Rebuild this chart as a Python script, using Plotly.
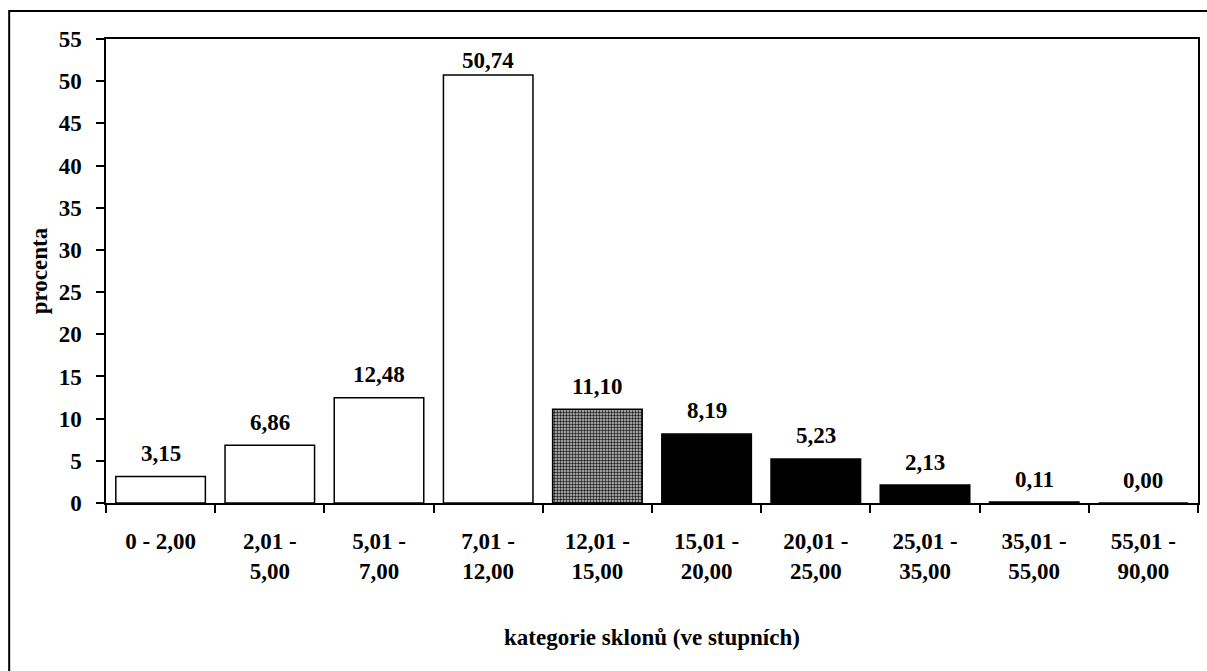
import plotly.graph_objects as go

categories = ["0 - 2,00", "2,01 -<br>5,00", "5,01 -<br>7,00", "7,01 -<br>12,00",
              "12,01 -<br>15,00", "15,01 -<br>20,00", "20,01 -<br>25,00",
              "25,01 -<br>35,00", "35,01 -<br>55,00", "55,01 -<br>90,00"]
values = [3.15, 6.86, 12.48, 50.74, 11.10, 8.19, 5.23, 2.13, 0.11, 0.00]
fill_kind = ["white", "white", "white", "white", "gray", "black", "black", "black", "black", "black"]
y_ticks = list(range(0, 56, 5))

FONT = dict(family="Liberation Serif", size=23, color="black", weight="bold")

W, H = 1207, 671
L, R, T, B = 106, 7, 39, 168
pw, ph = W - L - R, H - T - B
base = H - B  # pixel row of the plot bottom

fig = go.Figure()
for kind, col in [("white", "white"), ("gray", "#b4b4b4"), ("black", "black")]:
    xs = [c for c, k in zip(categories, fill_kind) if k == kind]
    ys = [v for v, k in zip(values, fill_kind) if k == kind]
    marker = dict(color=col, line=dict(color="black", width=1.5))
    if kind == "gray":
        marker["pattern"] = dict(shape=".", size=3, solidity=0.5,
                                 fgcolor="#1a1a1a", bgcolor="#c8c8c8", fillmode="replace")
    fig.add_trace(go.Bar(x=xs, y=ys, marker=marker, showlegend=False, hoverinfo="skip"))

for c, v in zip(categories, values):
    fig.add_annotation(x=c, y=v, text=f"{v:.2f}".replace(".", ","),
                       showarrow=False, yanchor="middle",
                       yshift=23 if v < 50 else 14, font=FONT)

# outer frame (left and top visible)
fig.add_shape(type="rect", xref="paper", yref="paper",
              x0=(9 - L) / pw, x1=(1215 - L) / pw,
              y0=(base - 700) / ph, y1=(base - 11) / ph,
              line=dict(color="black", width=2), layer="above")

fig.update_layout(
    width=W, height=H,
    margin=dict(l=L, r=R, t=T, b=B),
    paper_bgcolor="white", plot_bgcolor="white",
    bargap=0.18, barmode="overlay",
    font=FONT,
    xaxis=dict(type="category", categoryorder="array", categoryarray=categories,
               showline=True, linecolor="black", linewidth=1.5, mirror=True,
               ticks="outside", tickson="boundaries", ticklen=8, tickcolor="black",
               tickwidth=1.5, ticklabelstandoff=17, tickfont=FONT,
               title=dict(text="kategorie sklonů (ve stupních)", font=FONT, standoff=46),
               showgrid=False),
    yaxis=dict(range=[0, 55], tickvals=y_ticks, showline=True, linecolor="black",
               linewidth=1.5, mirror=True, ticks="outside", ticklen=8, tickcolor="black",
               tickwidth=1.5, ticklabelstandoff=10, tickfont=FONT, showgrid=False,
               zeroline=False,
               title=dict(text="procenta", font=FONT, standoff=5)),
)

fig.write_html("out.html")
